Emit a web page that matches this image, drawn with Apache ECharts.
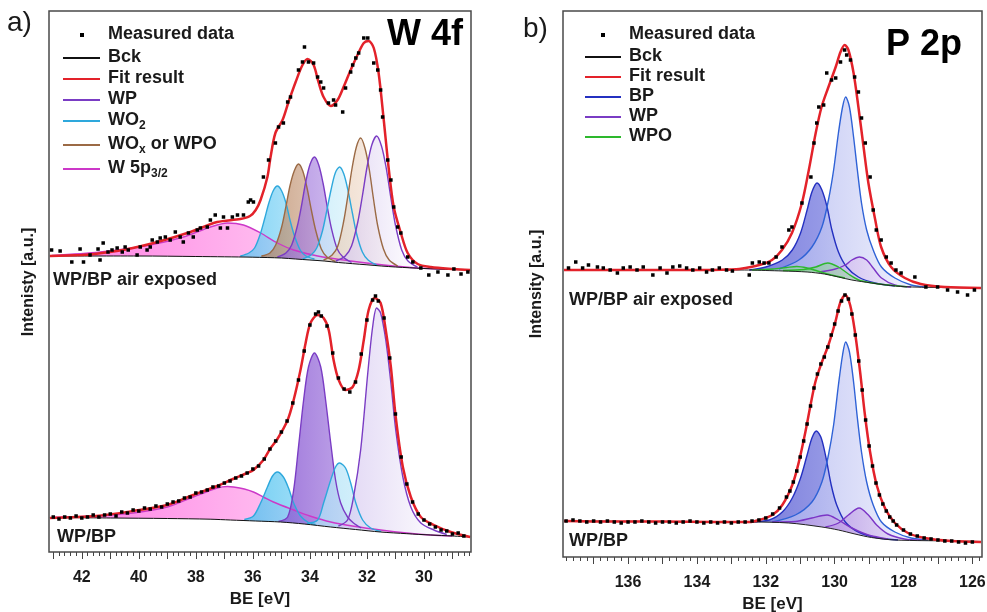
<!DOCTYPE html>
<html><head><meta charset="utf-8">
<script src="https://cdn.jsdelivr.net/npm/echarts@6/dist/echarts.min.js"></script>
<style>html,body{margin:0;padding:0;background:#fff}#c{width:987px;height:612px}</style>
</head><body><div id="c"></div>
<script>
// ---------- tick labels ----------
const A_TICKS = [30, 32, 34, 36, 38, 40, 42];
const B_TICKS = [126, 128, 130, 132, 134, 136];
const A_MAJOR = [29, 30, 31, 32, 33, 34, 35, 36, 37, 38, 39, 40, 41, 42, 43];
const B_MAJOR = [126, 127, 128, 129, 130, 131, 132, 133, 134, 135, 136, 137];

// ---------- panel a, WP/BP air exposed (upper trace) ----------
const A_UP_DATA = [[43.06,302],[42.76,301],[42.35,290],[42.06,303],[41.94,290],[41.71,297],[41.43,303],[41.36,292],[41.25,309],[41.08,300],[40.94,302],[40.76,304],[40.58,300],[40.48,305],[40.37,302],[40.06,297],[39.95,305],[39.71,302],[39.60,305],[39.53,312],[39.35,310],[39.25,314],[39.07,315],[38.90,312],[38.72,320],[38.55,315],[38.44,310],[38.26,319],[38.09,315],[37.95,322],[37.84,324],[37.60,325],[37.49,332],[37.32,337],[37.14,324],[37.03,335],[36.89,324],[36.72,335],[36.54,337],[36.33,337],[36.16,350],[36.08,352],[35.98,350],[35.63,375],[35.45,392],[35.21,409],[35.10,425],[34.93,429],[34.78,450],[34.68,455],[34.40,482],[34.26,490],[34.19,505],[34.05,490],[33.87,489],[33.73,475],[33.62,470],[33.52,464],[33.35,449],[33.17,452],[33.10,447],[32.85,440],[32.75,464],[32.57,480],[32.50,487],[32.39,494],[32.29,499],[32.11,514],[31.97,514],[31.76,489],[31.62,482],[31.52,462],[31.45,435],[31.27,392],[31.16,372],[31.06,345],[30.92,325],[30.81,319],[30.57,295],[30.39,290],[30.11,284],[29.83,277],[29.51,280],[29.16,277],[28.95,283],[28.70,278],[28.46,280]];
const A_UP_FIT = [[43.12,296],[42.0,297],[41.71,297.5],[40.55,302],[39.35,310],[38.19,320],[37.25,330],[36.44,333],[36.10,336],[35.90,342],[35.73,352],[35.49,375],[35.38,395],[35.21,419],[34.96,432],[34.75,450],[34.50,470],[34.26,487],[34.08,493],[33.87,487],[33.70,470],[33.52,455],[33.27,446],[33.03,452],[32.82,465],[32.57,482],[32.33,497],[32.11,509],[31.94,511],[31.76,504],[31.59,479],[31.41,432],[31.23,382],[31.06,345],[30.81,319],[30.57,299],[30.22,288],[29.76,285],[28.95,283],[28.38,282]];
const A_UP_BCK = [[43.12,296],[40,296],[38,295.5],[37,295.2],[36,294.8],[35,294],[34.5,293],[34,292],[33.5,291],[33,289.5],[32.5,288.3],[32,287.2],[31.5,286],[31,285],[30.5,284.2],[30,283.5],[29,282.5],[28.38,282]];
const A_UP_W5P = [[43.05,296.5],[41.36,300],[39.60,307],[38.44,315],[37.49,325],[36.89,329],[36.33,327],[35.73,319],[35.14,309],[34.57,302],[33.73,296],[32.57,291],[31.41,287],[30.22,284],[29.0,282.6]];
const A_UP_WO2_1 = [[36.44,296],[36.14,299],[35.94,304],[35.74,318],[35.59,333],[35.44,349],[35.29,361],[35.14,366],[34.99,361],[34.84,349],[34.69,331],[34.54,316],[34.34,302],[34.14,296],[33.84,293]];
const A_UP_WOX_1 = [[35.70,296],[35.40,299],[35.20,307],[35.00,324],[34.85,344],[34.70,366],[34.55,381],[34.40,388],[34.25,381],[34.10,364],[33.95,342],[33.80,322],[33.60,303],[33.40,295],[33.10,290.5]];
const A_UP_WP_1 = [[35.14,295],[34.84,299],[34.64,307],[34.44,326],[34.29,347],[34.14,371],[33.99,388],[33.84,395],[33.69,387],[33.54,369],[33.39,345],[33.24,323],[33.04,303],[32.84,295],[32.54,289.5]];
const A_UP_WO2_2 = [[34.26,293],[33.96,297],[33.76,304],[33.56,321],[33.41,341],[33.26,362],[33.11,379],[32.96,385],[32.81,378],[32.66,361],[32.51,339],[32.36,318],[32.16,300],[31.96,292],[31.66,287]];
const A_UP_WOX_2 = [[33.52,292],[33.22,297],[33.02,306],[32.82,330],[32.67,356],[32.52,384],[32.37,405],[32.22,414],[32.07,404],[31.92,383],[31.77,353],[31.62,326],[31.42,303],[31.22,292],[30.92,286]];
const A_UP_WP_2 = [[33.09,291],[32.76,296],[32.54,306],[32.32,330],[32.16,356],[31.99,386],[31.83,407],[31.66,416],[31.49,406],[31.33,385],[31.16,354],[31.00,327],[30.78,302],[30.56,291],[30.23,285]];

// ---------- panel a, WP/BP (lower trace) ----------
const A_LO_DATA = [[43.0,35],[42.8,33],[42.6,35],[42.4,34],[42.2,36],[42.0,34],[41.8,35],[41.6,37],[41.4,35],[41.2,37],[41.0,38],[40.8,36],[40.6,40],[40.4,39],[40.2,42],[40.0,41],[39.8,44],[39.6,43],[39.4,46],[39.2,45],[39.0,48],[38.8,50],[38.6,51],[38.4,54],[38.2,55],[38.0,59],[37.8,60],[37.6,62],[37.4,65],[37.2,66],[37.0,69],[36.8,71],[36.6,74],[36.4,76],[36.2,79],[36.0,83],[35.8,86],[35.6,93],[35.4,103],[35.2,111],[35.0,120],[34.8,131],[34.6,149],[34.4,172],[34.2,201],[34.0,227],[33.8,238],[33.7,240],[33.6,236],[33.4,226],[33.2,199],[33.0,174],[32.8,163],[32.6,160],[32.4,170],[32.2,198],[32.0,232],[31.8,252],[31.7,256],[31.6,251],[31.4,234],[31.2,194],[31.0,138],[30.8,95],[30.6,68],[30.4,50],[30.2,38],[30.0,32],[29.8,28],[29.6,25],[29.4,22],[29.2,21],[29.0,18],[28.8,19],[28.6,16]];
const A_LO_FIT = [[43.12,34],[41.5,36],[40.2,41],[39.0,47],[38.09,57],[37.25,66],[36.70,73],[36.20,79],[35.98,82],[35.63,92],[35.40,103],[35.14,113],[34.78,132],[34.57,152],[34.33,182],[34.15,209],[33.98,229],[33.73,237],[33.52,234],[33.34,222],[33.17,192],[32.99,172],[32.75,162],[32.50,165],[32.29,182],[32.11,212],[31.94,242],[31.73,254],[31.52,249],[31.34,222],[31.16,185],[30.99,135],[30.74,85],[30.46,55],[30.11,35],[29.65,27],[29.06,20],[28.38,15]];
const A_LO_BCK = [[43.12,34.5],[41,34],[39,33.5],[37.5,32.8],[36.79,32],[35.9,31],[35.03,30],[34.2,28],[33.27,25],[32.4,22.5],[31.52,20],[30.6,18.3],[29.76,17],[29,16],[28.38,15]];
const A_LO_W5P = [[43.05,34.5],[41.5,36],[40.2,39],[39.0,45],[38.09,55],[37.25,64],[36.89,65.5],[36.68,65],[36.3,63],[35.98,60],[35.63,55],[35.28,50],[34.57,42],[34.0,36],[33.27,30],[32.4,25.5],[31.52,22],[30.6,19],[29.76,17],[29.0,16]];
const A_LO_WO2_1 = [[36.3,32.5],[35.98,36],[35.73,49],[35.49,65],[35.31,76],[35.14,80],[34.93,75],[34.75,64],[34.57,49],[34.33,36],[34.05,29.5],[33.8,27.5]];
const A_LO_WP_1 = [[35.1,30.5],[34.78,35],[34.57,62],[34.40,105],[34.22,152],[34.05,185],[33.84,199],[33.62,185],[33.45,152],[33.27,109],[33.10,72],[32.92,49],[32.68,35],[32.47,29],[32.2,24]];
const A_LO_WO2_2 = [[34.1,28.5],[33.73,32],[33.52,49],[33.27,72],[33.10,85],[32.96,89],[32.75,84],[32.57,69],[32.39,49],[32.15,32],[31.87,24],[31.5,20.5]];
const A_LO_WP_2 = [[33.0,26],[32.68,32],[32.47,55],[32.22,102],[31.97,179],[31.80,225],[31.66,244],[31.52,239],[31.34,212],[31.16,169],[30.99,122],[30.74,75],[30.46,45],[30.11,29],[29.65,22],[29.2,17.5]];

// ---------- panel b, WP/BP air exposed (upper trace) ----------
const B_UP_DATA = [[137.73,289],[137.52,295],[137.32,289],[137.15,292],[136.89,290],[136.72,289],[136.52,287],[136.31,284],[136.14,289],[135.94,290],[135.74,287],[135.56,290],[135.28,282],[135.07,289],[134.87,284],[134.70,290],[134.50,291],[134.30,289],[134.12,287],[133.92,289],[133.72,285],[133.55,287],[133.35,289],[133.14,287],[132.97,286],[132.48,282],[132.39,294],[132.19,295],[132.05,294],[131.91,294],[131.70,300],[131.53,310],[131.33,327],[131.24,330],[130.95,354],[130.69,380],[130.60,414],[130.52,434],[130.46,450],[130.32,452],[130.23,484],[130.09,477],[129.97,479],[129.83,495],[129.71,507],[129.65,502],[129.54,497],[129.42,480],[129.31,465],[129.22,439],[129.11,414],[128.97,380],[128.88,347],[128.79,327],[128.65,317],[128.50,300],[128.36,294],[128.22,287],[128.07,284],[127.67,280],[127.35,270],[127.01,270],[126.72,267],[126.43,265],[126.14,262],[125.94,267]];
const B_UP_FIT = [[137.86,287],[136,287],[134,287],[133,287.5],[132.77,288],[132.19,292],[131.82,297],[131.53,307],[131.24,324],[130.95,354],[130.75,387],[130.55,424],[130.38,450],[130.18,470],[129.97,490],[129.83,505],[129.71,512],[129.60,507],[129.45,484],[129.31,450],[129.16,410],[129.02,374],[128.82,337],[128.65,310],[128.36,290],[127.96,279],[127.50,273],[126.80,270],[125.75,269]];
const B_UP_BCK = [[137.86,287],[135,287],[133,287],[132.5,287],[132.0,286.5],[131.5,286],[130.8,285],[130.3,283],[129.89,280],[129.5,277],[128.93,274],[128.5,272],[127.96,270.3],[127.0,269.5],[125.75,269]];
const B_UP_BP_1 = [[131.62,288],[131.04,297],[130.66,310],[130.37,330],[130.18,357],[130.03,387],[129.89,424],[129.77,450],[129.68,460],[129.57,450],[129.45,420],[129.34,387],[129.22,354],[129.07,327],[128.88,307],[128.64,290],[128.25,279],[127.78,272],[127.39,270]];
const B_UP_BP_2 = [[132.48,287],[132.00,290],[131.52,297],[131.23,307],[130.99,324],[130.80,347],[130.66,365],[130.51,374],[130.37,367],[130.22,350],[130.08,327],[129.89,305],[129.65,290],[129.31,280],[128.83,274],[128.25,271]];
const B_UP_WP = [[130.46,285],[129.98,288],[129.69,292],[129.50,297],[129.28,300],[129.07,297],[128.88,289],[128.64,279],[128.25,272],[127.78,270]];
const B_UP_WPO_1 = [[132.4,287],[131.8,288],[131.4,289.5],[131.1,290.5],[130.8,289],[130.5,286],[130.1,282],[129.7,279]];
const B_UP_WPO_2 = [[131.5,286.5],[130.9,287.5],[130.55,290],[130.2,294],[129.89,290],[129.6,283],[129.3,277],[128.9,274],[128.45,272],[127.9,270.3]];

// ---------- panel b, WP/BP (lower trace) ----------
const B_LO_DATA = [[137.8,36],[137.6,37],[137.4,36],[137.2,35],[137.0,36],[136.8,35],[136.6,36],[136.4,35],[136.2,34],[136.0,35],[135.8,35],[135.6,36],[135.4,35],[135.2,34],[135.0,35],[134.8,35],[134.6,34],[134.4,35],[134.2,36],[134.0,35],[133.8,34],[133.6,35],[133.4,34],[133.2,35],[133.0,34],[132.8,35],[132.6,35],[132.4,36],[132.2,37],[132.0,39],[131.8,43],[131.6,49],[131.4,60],[131.3,66],[131.2,75],[131.1,86],[131.0,100],[130.9,116],[130.8,133],[130.7,151],[130.6,169],[130.5,183],[130.4,193],[130.3,200],[130.2,210],[130.1,222],[130.0,233],[129.9,246],[129.8,256],[129.7,262],[129.6,258],[129.5,243],[129.4,222],[129.3,196],[129.2,167],[129.1,137],[129.0,111],[128.9,91],[128.8,74],[128.7,62],[128.6,53],[128.5,46],[128.4,40],[128.3,36],[128.2,32],[128.0,27],[127.8,23],[127.6,21],[127.4,19],[127.2,18],[127.0,17],[126.8,16],[126.6,16],[126.4,15],[126.2,14],[126.0,15]];
const B_LO_FIT = [[137.86,36],[136.5,35.5],[135,35.5],[133.5,35],[132.48,35],[132.19,37],[131.81,42],[131.52,52],[131.23,72],[131.04,95],[130.85,125],[130.70,152],[130.56,175],[130.37,195],[130.18,212],[129.98,235],[129.84,254],[129.69,262],[129.55,252],[129.41,225],[129.26,185],[129.12,142],[128.97,105],[128.78,72],[128.54,49],[128.25,34],[127.87,24],[127.39,19],[126.62,16],[125.75,15]];
const B_LO_BCK = [[137.86,36],[135,35.5],[133,35],[132.48,35],[131.33,34],[130.37,30],[129.89,27],[129.41,23],[128.93,19.5],[128.25,17],[126.5,16],[125.75,15.5]];
const B_LO_BP_1 = [[131.81,35],[131.14,42],[130.66,55],[130.37,75],[130.18,102],[130.03,132],[129.89,172],[129.77,202],[129.68,215],[129.57,205],[129.45,175],[129.34,139],[129.22,105],[129.07,75],[128.88,52],[128.64,35],[128.25,25],[127.78,19],[127.29,17]];
const B_LO_BP_2 = [[132.48,35],[131.90,37],[131.52,45],[131.23,59],[130.99,79],[130.80,102],[130.66,119],[130.53,126],[130.39,119],[130.25,99],[130.10,72],[129.94,52],[129.69,35],[129.31,25],[128.73,19],[128.16,17]];
const B_LO_WP_1 = [[130.27,30],[129.89,34],[129.60,42],[129.29,49],[129.02,42],[128.78,32],[128.45,23],[127.97,18],[127.49,17]];
const B_LO_WP_2 = [[131.81,35],[131.14,35.5],[130.66,39],[130.22,42],[129.89,37],[129.50,29],[129.02,22],[128.45,18]];

// ---------- styling / building ----------
const FONT = '"Liberation Sans", Arial, sans-serif';
const TXT = '#1a1a1a';
const chart = echarts.init(document.getElementById('c'), null, {renderer: 'canvas'});

// minor tick positions every 0.2 eV (axis decoration only)
function tickRange(from, to, step) {
  const out = [];
  for (let k = 0; from + k * step <= to + 1e-9; k++) out.push(Math.round((from + k * step) * 10) / 10);
  return out;
}
const A_MINOR = tickRange(28.4, 43.0, 0.2);
const B_MINOR = tickRange(125.8, 137.8, 0.2);

function grad(c1, c2) {
  return new echarts.graphic.LinearGradient(0, 0, 1, 0, [{offset: 0, color: c1}, {offset: 1, color: c2}]);
}
function peak(name, data, p, line, c1, c2, op) {
  return {type: 'line', name, data, xAxisIndex: p * 2, yAxisIndex: p, smooth: 0.3, symbol: 'none',
    lineStyle: {color: line, width: 1.4}, itemStyle: {color: line},
    areaStyle: {color: grad(c1, c2), opacity: op}, silent: true};
}
function bck(data, p, col) {
  return {type: 'line', name: 'Bck', data, xAxisIndex: p * 2, yAxisIndex: p, smooth: 0.3, symbol: 'none',
    lineStyle: {color: col, width: 1}, itemStyle: {color: col},
    areaStyle: {color: '#ffffff', opacity: 1}, silent: true};
}
function fit(data, p) {
  return {type: 'line', name: 'Fit result', data, xAxisIndex: p * 2, yAxisIndex: p, smooth: 0.3, symbol: 'none',
    lineStyle: {color: '#e3222a', width: 2.5}, itemStyle: {color: '#e3222a'}, silent: true};
}
function meas(data, p) {
  return {type: 'scatter', name: 'Measured data', data, xAxisIndex: p * 2, yAxisIndex: p, z: 5,
    symbol: 'rect', symbolSize: 3.5, itemStyle: {color: '#000', opacity: 1}, silent: true};
}

const C = {
  wp: '#7a3cc4', wo2: '#2ea8dc', wox: '#9b6a45', w5p: '#cc38c8',
  bp1: '#2f62d6', bp2: '#2430c0', wpb: '#7b35c6', wpo: '#2db82d'
};

const series = [
  // panel a upper
  peak('W 5p3/2', A_UP_W5P, 0, C.w5p, 'rgba(255,70,215,0.85)', 'rgba(255,205,240,0.6)', 0.85),
  peak('WO2', A_UP_WO2_1, 0, C.wo2, '#56c6f2', '#a9e0f8', 0.75),
  peak('WOx or WPO', A_UP_WOX_1, 0, C.wox, '#b07a55', '#dcbca4', 0.7),
  peak('WP', A_UP_WP_1, 0, C.wp, '#9163d6', '#c4aaea', 0.7),
  peak('WO2', A_UP_WO2_2, 0, C.wo2, '#b9e7f8', '#eaf8fd', 0.75),
  peak('WOx or WPO', A_UP_WOX_2, 0, C.wox, '#e6c8b0', '#f8eee6', 0.7),
  peak('WP', A_UP_WP_2, 0, C.wp, '#d3c3ee', '#ffffff', 0.7),
  bck(A_UP_BCK, 0, '#111'),
  fit(A_UP_FIT, 0),
  meas(A_UP_DATA, 0),
  // panel a lower
  peak('W 5p3/2', A_LO_W5P, 0, C.w5p, 'rgba(255,80,220,0.9)', 'rgba(255,200,238,0.6)', 0.85),
  peak('WO2', A_LO_WO2_1, 0, C.wo2, '#4ec2f0', '#92d9f6', 0.8),
  peak('WP', A_LO_WP_1, 0, C.wp, '#8756d2', '#b798e6', 0.8),
  peak('WO2', A_LO_WO2_2, 0, C.wo2, '#a6dff6', '#d2effb', 0.75),
  peak('WP', A_LO_WP_2, 0, C.wp, '#d6c8f0', '#ffffff', 0.75),
  bck(A_LO_BCK, 0, '#111'),
  fit(A_LO_FIT, 0),
  meas(A_LO_DATA, 0),
  // panel b upper
  peak('BP', B_UP_BP_2, 1, C.bp2, '#5a5ed6', '#9da2ea', 0.8),
  peak('BP', B_UP_BP_1, 1, C.bp1, '#a9b0ee', '#f0f1fd', 0.75),
  peak('WP', B_UP_WP, 1, C.wpb, '#c6a8ea', '#f5effc', 0.7),
  peak('WPO', B_UP_WPO_1, 1, C.wpo, '#6cc86c', '#c8ecc8', 0.5),
  peak('WPO', B_UP_WPO_2, 1, C.wpo, '#6cc86c', '#c8ecc8', 0.5),
  bck(B_UP_BCK, 1, '#222'),
  fit(B_UP_FIT, 1),
  meas(B_UP_DATA, 1),
  // panel b lower
  peak('BP', B_LO_BP_2, 1, C.bp2, '#5458d2', '#9fa3ea', 0.8),
  peak('BP', B_LO_BP_1, 1, C.bp1, '#a9afee', '#f0f1fd', 0.75),
  peak('WP', B_LO_WP_2, 1, C.wpb, '#a77fdc', '#e2d6f4', 0.7),
  peak('WP', B_LO_WP_1, 1, C.wpb, '#b48ee2', '#efe6f8', 0.7),
  bck(B_LO_BCK, 1, '#222'),
  fit(B_LO_FIT, 1),
  meas(B_LO_DATA, 1)
];

function mainX(grid, min, max, labels, minor, gap) {
  return {gridIndex: grid, type: 'value', inverse: true, min, max, position: 'bottom',
    axisLine: {show: false, onZero: false}, splitLine: {show: false},
    axisTick: {show: true, length: 4, customValues: minor, lineStyle: {color: '#444', width: 1}},
    axisLabel: {margin: 18, color: TXT, fontSize: 16, fontWeight: 'bold', fontFamily: FONT, hideOverlap: false,
      customValues: labels, formatter: v => String(Math.round(v))},
    name: 'BE [eV]', nameLocation: 'middle', nameGap: gap,
    nameTextStyle: {color: TXT, fontSize: 17, fontWeight: 'bold', fontFamily: FONT}};
}
function majorX(grid, min, max, major) {
  return {gridIndex: grid, type: 'value', inverse: true, min, max, position: 'bottom',
    axisLine: {show: false, onZero: false}, splitLine: {show: false}, axisLabel: {show: false},
    axisTick: {show: true, length: 7, customValues: major, lineStyle: {color: '#444', width: 1}}};
}

const legendRich = {
  f: {fontSize: 18, fontWeight: 'bold', fontFamily: FONT, color: TXT, lineHeight: 20, verticalAlign: 'top', padding: [0, 0, 0, 3]},
  m: {fontSize: 18, fontWeight: 'bold', fontFamily: FONT, color: TXT, lineHeight: 20, verticalAlign: 'top'},
  s: {fontSize: 12, fontWeight: 'bold', fontFamily: FONT, color: TXT, lineHeight: 12, verticalAlign: 'top', padding: [9, 0, 0, 0]},
  d: {fontSize: 18, fontWeight: 'bold', fontFamily: FONT, color: TXT, lineHeight: 20, verticalAlign: 'top', padding: [0, 0, 0, 19]}
};
const LEGEND_LABEL = {
  'WO2': '{f|WO}{s|2}',
  'WOx or WPO': '{f|WO}{s|x}{m| or WPO}',
  'W 5p3/2': '{f|W 5p}{s|3/2}'
};
function lineLegend(left, top, names, gap, w) {
  return {orient: 'vertical', left, top, itemGap: gap, itemWidth: w, itemHeight: 2, icon: 'rect',
    data: names, selectedMode: false, padding: 0, textStyle: {rich: legendRich},
    formatter: n => LEGEND_LABEL[n] || ('{f|' + n + '}')};
}
function dotLegend(left, top) {
  return {orient: 'vertical', left, top, itemWidth: 4, itemHeight: 4, selectedMode: false, padding: 0,
    icon: 'rect', data: ['Measured data'], textStyle: {rich: legendRich},
    formatter: n => '{d|' + n + '}'};
}
function txt(text, x, y, size, opts) {
  return Object.assign({type: 'text', x, y, z: 100, silent: true,
    style: {text, fontSize: size, fontWeight: 'bold', fontFamily: FONT, fill: TXT, align: 'left', verticalAlign: 'middle'}}, opts || {});
}

const gridCommon = {show: true, borderColor: '#4a4a4a', borderWidth: 1.5, backgroundColor: 'transparent', z: 10,
  containLabel: false, outerBoundsMode: 'none'};

chart.setOption({
  animation: false,
  backgroundColor: '#ffffff',
  grid: [
    Object.assign({left: 49, top: 11, width: 422, height: 541}, gridCommon),
    Object.assign({left: 563, top: 11, width: 419, height: 546}, gridCommon)
  ],
  xAxis: [
    mainX(0, 28.35, 43.15, A_TICKS, A_MINOR, 38),
    majorX(0, 28.35, 43.15, A_MAJOR),
    mainX(1, 125.72, 137.89, B_TICKS, B_MINOR, 36),
    majorX(1, 125.72, 137.89, B_MAJOR)
  ],
  yAxis: [
    {gridIndex: 0, type: 'value', min: 0, max: 541, show: false},
    {gridIndex: 1, type: 'value', min: 0, max: 546, show: false}
  ],
  legend: [
    dotLegend(80, 25),
    lineLegend(63, 48, ['Bck', 'Fit result', 'WP', 'WO2', 'WOx or WPO', 'W 5p3/2'], 3, 37),
    dotLegend(601, 25),
    lineLegend(585, 47, ['Bck', 'Fit result', 'BP', 'WP', 'WPO'], 2, 36)
  ],
  graphic: [
    txt('a)', 7, 23, 28, {style: {text: 'a)', fontSize: 28, fontWeight: 'normal', fontFamily: FONT, fill: TXT, align: 'left', verticalAlign: 'middle'}}),
    txt('b)', 523, 29, 28, {style: {text: 'b)', fontSize: 28, fontWeight: 'normal', fontFamily: FONT, fill: TXT, align: 'left', verticalAlign: 'middle'}}),
    txt('W 4f', 463, 35, 36, {style: {text: 'W 4f', fontSize: 36, fontWeight: 'bold', fontFamily: FONT, fill: '#000', align: 'right', verticalAlign: 'middle'}}),
    txt('P 2p', 962, 45, 36, {style: {text: 'P 2p', fontSize: 36, fontWeight: 'bold', fontFamily: FONT, fill: '#000', align: 'right', verticalAlign: 'middle'}}),
    txt('WP/BP air exposed', 53, 280, 18),
    txt('WP/BP', 57, 537, 18),
    txt('WP/BP air exposed', 569, 300, 18),
    txt('WP/BP', 569, 541, 18),
    txt('Intenisty [a.u.]', 29, 282, 16, {rotation: Math.PI / 2, style: {text: 'Intenisty [a.u.]', fontSize: 16, fontWeight: 'bold', fontFamily: FONT, fill: TXT, align: 'center', verticalAlign: 'middle'}}),
    txt('Intensity [a.u.]', 537, 284, 16, {rotation: Math.PI / 2, style: {text: 'Intensity [a.u.]', fontSize: 16, fontWeight: 'bold', fontFamily: FONT, fill: TXT, align: 'center', verticalAlign: 'middle'}})
  ],
  series
});
</script>
</body></html>
